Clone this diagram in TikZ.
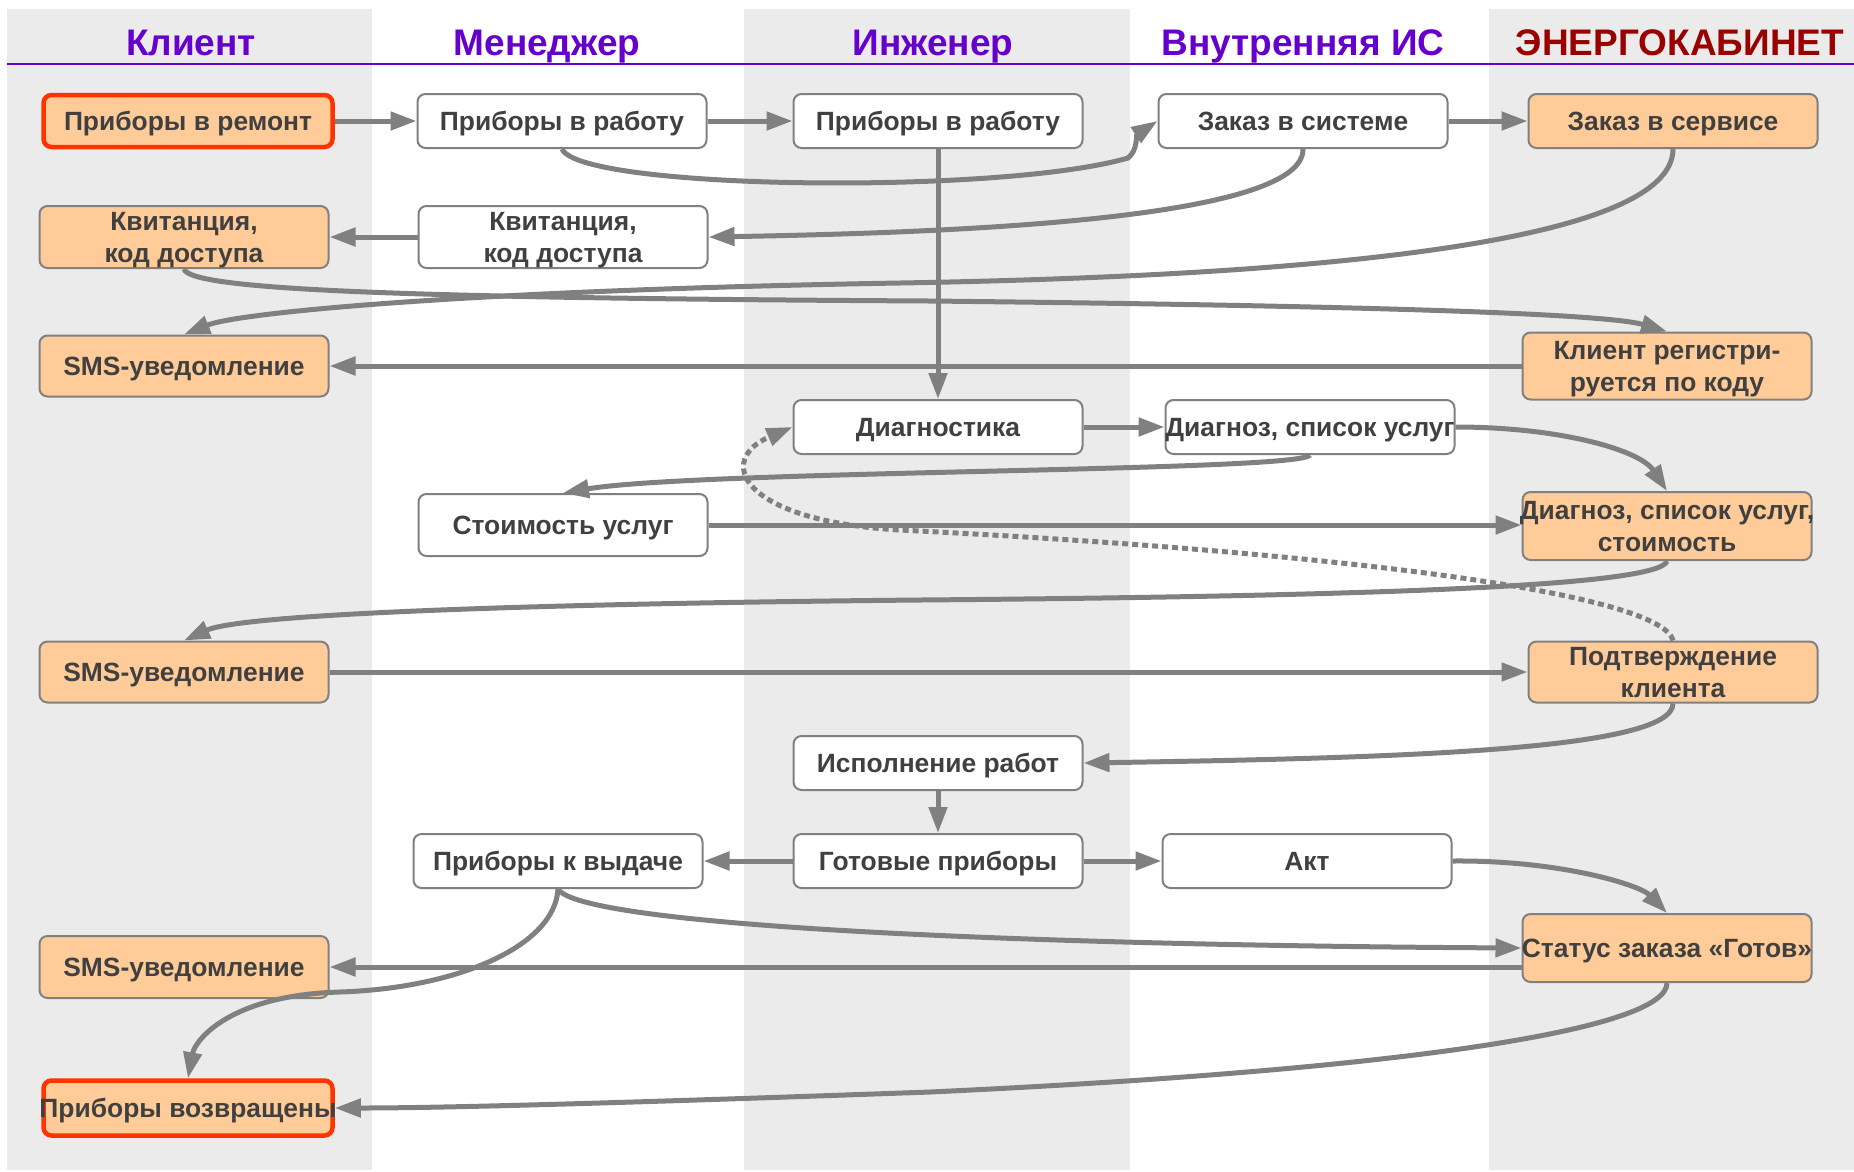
\documentclass[tikz,border=0pt]{standalone}
\usepackage{fontspec}
\setmainfont{Liberation Sans}
\usetikzlibrary{arrows.meta}
\definecolor{lanegray}{HTML}{EBEBEB}
\definecolor{linegray}{HTML}{808080}
\definecolor{boxorange}{HTML}{FFCC99}
\definecolor{boxred}{HTML}{FF3300}
\definecolor{headviolet}{HTML}{6600CC}
\definecolor{headred}{HTML}{990000}
\definecolor{txtgray}{HTML}{404040}
\begin{document}
\begin{tikzpicture}[x=1pt, y=-1pt,
  lane/.style={fill=lanegray, draw=none},
  head/.style={font=\fontsize{37}{40}\selectfont\bfseries, text=headviolet, anchor=base},
  box/.style={draw=linegray, line width=2pt, rounded corners=8pt, fill=white, text=txtgray,
    font=\fontsize{26.4}{32}\selectfont\bfseries, align=center, minimum width=289pt,
    inner xsep=0pt, inner ysep=0pt, text depth=0pt},
  obox/.style={box, fill=boxorange},
  rbox/.style={obox, draw=boxred, line width=4.5pt},
  arr/.style={draw=linegray, line width=5pt, -{Triangle[length=26pt,width=18pt]}},
  dotarr/.style={arr, dash pattern=on 6pt off 4pt}]
\useasboundingbox (0,0) rectangle (1854,1171);
\fill[lane] (7,9) rectangle (372,1170);
\fill[lane] (744,9) rectangle (1130,1170);
\fill[lane] (1489,9) rectangle (1854,1170);
\draw[headviolet, line width=2.5pt] (7,64) -- (1854,64);
\node[head] (hcl) at (191,55) {Клиент};
\node[head] (hmn) at (547,55) {Менеджер};
\node[head] (hen) at (933,55) {Инженер};
\node[head] (his) at (1303,55) {Внутренняя ИС};
\node[head, text=headred] (hek) at (1680,55) {ЭНЕРГОКАБИНЕТ};
\node[rbox, minimum height=52pt] (b1) at (188,121) {Приборы в ремонт};
\node[box, minimum height=54pt] (b2) at (562,121) {Приборы в работу};
\node[box, minimum height=54pt] (b3) at (938,121) {Приборы в работу};
\node[box, minimum height=54pt] (zs) at (1303,121) {Заказ в системе};
\node[obox, minimum height=54pt] (zsv) at (1673,121) {Заказ в сервисе};
\node[obox, minimum height=62pt] (kvc) at (184,237) {Квитанция,\\код доступа};
\node[box, minimum height=62pt] (kvm) at (563,237) {Квитанция,\\код доступа};
\node[obox, minimum height=61pt] (sms1) at (184,366) {SMS-уведомление};
\node[obox, minimum height=67pt] (kr) at (1667,366) {Клиент регистри-\\руется по коду};
\node[box, minimum height=54pt] (diag) at (938,427) {Диагностика};
\node[box, minimum height=54pt, inner xsep=-2pt] (dsu) at (1310,427) {Диагноз, список услуг};
\node[box, minimum height=62pt] (stm) at (563,525) {Стоимость услуг};
\node[obox, minimum height=68pt, inner xsep=-3pt] (dst) at (1667,526) {Диагноз, список услуг,\\стоимость};
\node[obox, minimum height=61pt] (sms2) at (184,672) {SMS-уведомление};
\node[obox, minimum height=61pt] (podtv) at (1673,672) {Подтверждение\\клиента};
\node[box, minimum height=54pt] (isp) at (938,763) {Исполнение работ};
\node[box, minimum height=54pt] (pkv) at (558,861) {Приборы к выдаче};
\node[box, minimum height=54pt] (got) at (938,861) {Готовые приборы};
\node[box, minimum height=54pt] (akt) at (1307,861) {Акт};
\node[obox, minimum height=62pt] (sms3) at (184,967) {SMS-уведомление};
\node[obox, minimum height=68pt, inner xsep=-2pt] (st) at (1667,948) {Статус заказа «Готов»};
\node[rbox, minimum height=55pt, inner xsep=-5pt] (pvz) at (188,1108) {Приборы возвращены};
\draw[arr] (b1) -- (b2);
\draw[arr] (b2) -- (b3);
\draw[arr] (zs) -- (zsv);
\draw[arr] (kvm) -- (kvc);
\draw[arr] (kr) -- (sms1);
\draw[arr] (b3) -- (diag);
\draw[arr] (diag) -- (dsu);
\draw[arr] (stm.east) -- (stm.east -| dst.west);
\draw[arr] (sms2) -- (podtv);
\draw[arr] (isp) -- (got);
\draw[arr] (got) -- (pkv);
\draw[arr] (got) -- (akt);
\draw[arr] (st.west |- sms3.east) -- (sms3.east);
\draw[arr] (b2.south) .. controls (580,190) and (1000,195) .. (1128,158) .. controls (1138,150) and (1136,135) .. (zs.west);
\draw[arr] (zs.south) .. controls (1304,215) and (1000,232) .. (kvm.east);
\draw[arr] (zsv.south) .. controls (1673,245) and (1300,276) .. (900,283) .. controls (480,290) and (240,312) .. (sms1.north);
\draw[arr] (kvc.south) .. controls (190,290) and (400,298) .. (930,301) .. controls (1300,305) and (1600,312) .. (kr.north);
\draw[arr] (dsu.east) .. controls (1560,427) and (1640,450) .. (dst.north);
\draw[arr] (dsu.south) .. controls (1300,472) and (700,470) .. (stm.north);
\draw[dotarr] (podtv.north) .. controls (1660,590) and (1300,550) .. (900,530) .. controls (740,521) and (715,460) .. (diag.west);
\draw[arr] (dst.south) .. controls (1660,585) and (1400,596) .. (920,600) .. controls (500,604) and (240,615) .. (sms2.north);
\draw[arr] (podtv.south) .. controls (1673,750) and (1400,758) .. (isp.east);
\draw[arr] (akt.east) .. controls (1560,860) and (1640,885) .. (st.north);
\draw[arr] (pkv.south) .. controls (580,925) and (1000,945) .. (st.west);
\draw[arr] (pkv.south) .. controls (555,945) and (460,988) .. (340,992) .. controls (230,995) and (195,1040) .. (pvz.north);
\draw[arr] (st.south) .. controls (1667,1030) and (1400,1070) .. (930,1092) .. controls (650,1102) and (450,1108) .. (pvz.east);
\end{tikzpicture}
\end{document}
